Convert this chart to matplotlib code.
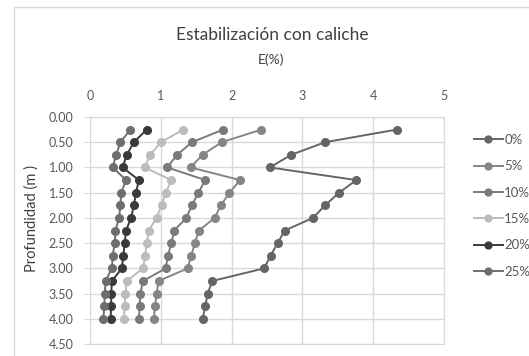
import matplotlib
matplotlib.use("Agg")
import matplotlib.pyplot as plt
from matplotlib.patches import Rectangle

plt.rcParams['font.family'] = ['Lato', 'DejaVu Sans']

depth = [0.25, 0.5, 0.75, 1.0, 1.25, 1.5, 1.75, 2.0, 2.25, 2.5, 2.75, 3.0, 3.25, 3.5, 3.75, 4.0]
labels = ["0%", "5%", "10%", "15%", "20%", "25%"]
e0 = [4.33, 3.32, 2.84, 2.54, 3.76, 3.52, 3.32, 3.15, 2.75, 2.65, 2.55, 2.46, 1.73, 1.66, 1.63, 1.59]
e5 = [2.42, 1.86, 1.59, 1.42, 2.12, 1.97, 1.85, 1.76, 1.54, 1.48, 1.43, 1.38, 0.97, 0.94, 0.92, 0.90]
e10 = [1.88, 1.44, 1.23, 1.09, 1.63, 1.53, 1.44, 1.36, 1.19, 1.15, 1.10, 1.07, 0.75, 0.71, 0.70, 0.69]
e15 = [1.32, 1.00, 0.85, 0.77, 1.15, 1.07, 1.01, 0.94, 0.83, 0.80, 0.78, 0.75, 0.52, 0.50, 0.49, 0.48]
e20 = [0.80, 0.62, 0.52, 0.46, 0.69, 0.65, 0.62, 0.58, 0.51, 0.49, 0.47, 0.45, 0.31, 0.30, 0.30, 0.29]
e25 = [0.57, 0.43, 0.37, 0.32, 0.51, 0.44, 0.43, 0.41, 0.36, 0.35, 0.32, 0.31, 0.22, 0.21, 0.20, 0.19]
series = [e0, e5, e10, e15, e20, e25]
colors = ["#656565", "#858585", "#7a7a7a", "#bcbcbc", "#3a3a3a", "#6e6e6e"]
xticks = [0, 1, 2, 3, 4, 5]
yticks = [0.0, 0.5, 1.0, 1.5, 2.0, 2.5, 3.0, 3.5, 4.0, 4.5]

W, H = 529, 356
fig = plt.figure(figsize=(W / 100, H / 100), dpi=100)
fig.patches.append(Rectangle((14 / W, -0.1), 1.2, 1.1 - 7 / H, transform=fig.transFigure,
                             fill=False, edgecolor="#d9d9d9", lw=1))
ax = fig.add_axes([90 / W, 1 - 344 / H, (444 - 90) / W, (344 - 117) / H])

for vals, lab, col in zip(series, labels, colors):
    ax.plot(vals, depth, color=col, lw=1.4, marker='o', markersize=5.5, label=lab)

ax.set_xlim(0, 5)
ax.set_ylim(4.5, 0)
ax.set_xticks(xticks)
ax.set_yticks(yticks)
ax.set_yticklabels([f"{v:.2f}" for v in yticks])
ax.xaxis.tick_top()
ax.grid(True, color="#d9d9d9", lw=1)
ax.set_axisbelow(True)
for s in ax.spines.values():
    s.set_color("#d9d9d9")
ax.tick_params(axis='x', length=0, pad=11, labelsize=9, colors="#595959")
ax.tick_params(axis='y', length=4, color="#d9d9d9", pad=8, labelsize=9, labelcolor="#595959")

fig.text(272 / W, 1 - 35 / H, "Estabilización con caliche", ha='center', va='center',
         fontsize=12.5, color="#404040")
fig.text(271 / W, 1 - 60 / H, "E(%)", ha='center', va='center', fontsize=10, color="#404040")
fig.text(32 / W, 1 - 219 / H, "Profundidad (m )", ha='center', va='center', rotation=90,
         fontsize=10.5, color="#404040")

ax.legend(loc='upper left', bbox_to_anchor=(462 / W, 1 - 122 / H), bbox_transform=fig.transFigure,
          frameon=False, fontsize=9.5, labelcolor="#595959", handlelength=2.2, handletextpad=0.1,
          labelspacing=1.09, markerscale=0.9)

fig.savefig("out.png", dpi=100)
